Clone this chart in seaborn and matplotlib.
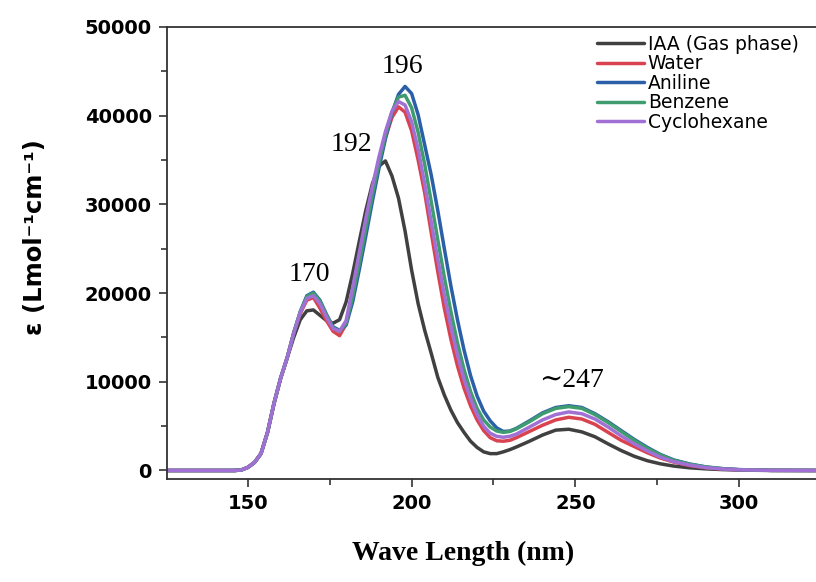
import pandas as pd
import matplotlib
matplotlib.use("Agg")
import matplotlib.pyplot as plt
from matplotlib.ticker import MultipleLocator
import seaborn as sns

# wavelength grid (nm)
wavelength = [125, 146, 148, 150, 152, 154, 156, 158, 160, 162, 164, 166, 168, 170, 172, 174, 176, 178,
              180, 182, 184, 186, 188, 190, 192, 194, 196, 198, 200, 202, 204, 206, 208, 210, 212, 214,
              216, 218, 220, 222, 224, 226, 228, 230, 232, 236, 240, 244, 248, 252, 256, 260, 264, 268,
              272, 276, 280, 285, 290, 295, 300, 310, 325]

# shared onset of all curves (125 .. 162 nm)
onset = [0, 0, 60, 350, 900, 1900, 4300, 7600, 10400, 12700]

gas = onset + [15000, 17000, 18000, 18100, 17500, 16900, 16600, 17000,
               19000, 22200, 25800, 29300, 32300, 34300, 34900, 33200, 30700, 27000, 22600, 18800,
               15800, 13200, 10500, 8500, 6800, 5400, 4300, 3300, 2600, 2100, 1900, 1900, 2100, 2350,
               2650, 3300, 4000, 4550, 4650, 4350, 3800, 3000, 2250, 1600, 1100, 750, 500,
               300, 180, 100, 50, 0, 0]
water = onset + [15500, 17700, 19200, 19500, 18300, 16900, 15700, 15200,
                 16500, 19800, 23600, 27500, 31300, 34600, 37500, 39800, 41000, 40400, 38300, 35000,
                 31300, 26800, 22400, 18300, 14800, 11800, 9300, 7300, 5700, 4500, 3700, 3350, 3300, 3400,
                 3700, 4400, 5100, 5700, 6000, 5800, 5200, 4300, 3400, 2700, 2000, 1400, 950,
                 550, 300, 160, 80, 15, 0]
aniline = onset + [15500, 17900, 19700, 20100, 19200, 17600, 16200, 15800,
                   16400, 19000, 22600, 26400, 30300, 34000, 37400, 40300, 42400, 43300, 42500, 40100,
                   36700, 33300, 29300, 25000, 20800, 17000, 13600, 10700, 8400, 6700, 5600, 4800, 4400, 4450,
                   4750, 5600, 6500, 7100, 7300, 7100, 6400, 5500, 4500, 3500, 2600, 1800, 1200,
                   720, 400, 210, 100, 15, 0]
benzene = onset + [15500, 17900, 19600, 20000, 19100, 17500, 16100, 15700,
                   16600, 19600, 23300, 27200, 31000, 34600, 37800, 40400, 42100, 42300, 40900, 38100,
                   34500, 30300, 26000, 21800, 17900, 14400, 11400, 8900, 7000, 5700, 4900, 4450, 4300, 4400,
                   4700, 5500, 6400, 7000, 7200, 7000, 6300, 5400, 4400, 3400, 2500, 1750, 1150,
                   700, 380, 200, 90, 15, 0]
cyclohexane = onset + [15500, 17800, 19400, 19700, 18800, 17300, 16000, 15700,
                       16900, 20600, 24500, 28400, 32000, 35300, 38200, 40500, 41600, 41200, 39300, 36200,
                       32300, 28000, 23800, 19800, 16200, 13000, 10300, 8100, 6300, 5000, 4200, 3850, 3750, 3850,
                       4100, 4900, 5700, 6300, 6600, 6400, 5800, 4900, 3900, 3000, 2200, 1500, 1000,
                       600, 320, 170, 80, 15, 0]

labels = ["IAA (Gas phase)", "Water", "Aniline", "Benzene", "Cyclohexane"]
colors = ["#404040", "#d9434f", "#2b5fa8", "#3f9c6f", "#a070d4"]
series = [gas, water, aniline, benzene, cyclohexane]

frames = []
for name, vals in zip(labels, series):
    frames.append(pd.DataFrame({"Wavelength": wavelength, "Epsilon": vals, "Solvent": name}))
df = pd.concat(frames, ignore_index=True)

sns.set_style("ticks")
plt.rcParams['font.family'] = ['DejaVu Sans']
plt.rcParams['text.color'] = 'black'
plt.rcParams['xtick.labelcolor'] = 'black'
plt.rcParams['ytick.labelcolor'] = 'black'

fig = plt.figure(figsize=(8.16, 5.82), dpi=100)
ax = fig.add_axes([167 / 816, 103 / 582, 1 - 167 / 816, 452 / 582])

sns.lineplot(data=df, x="Wavelength", y="Epsilon", hue="Solvent", hue_order=labels,
             palette=colors, linewidth=2.5, ax=ax, sort=False)

ax.set_xlim(125.3, 323.5)
ax.set_ylim(-960, 50000)
ax.xaxis.set_major_locator(MultipleLocator(50))
ax.xaxis.set_minor_locator(MultipleLocator(25))
ax.yaxis.set_major_locator(MultipleLocator(10000))
ax.yaxis.set_minor_locator(MultipleLocator(5000))
ax.tick_params(which="major", direction="out", length=6, width=1.2, color="#333333",
               labelsize=14, pad=5, labelcolor="black")
ax.tick_params(which="minor", direction="out", length=4, width=1.2, color="#333333")
for lab in ax.get_xticklabels() + ax.get_yticklabels():
    lab.set_fontweight("bold")
for side in ["left", "bottom", "top"]:
    ax.spines[side].set_color("#333333")
    ax.spines[side].set_linewidth(1.3)
ax.spines["right"].set_visible(False)
ax.set_xlabel("")
ax.set_ylabel("")

# legend
handles, _ = ax.get_legend_handles_labels()
leg = ax.legend(handles, labels, loc="upper left", bbox_to_anchor=(597 / 816, 1 - 35 / 582),
                bbox_transform=fig.transFigure, frameon=False, fontsize=13.5, handlelength=2.5,
                handletextpad=0.2, labelspacing=0.02, borderpad=0, borderaxespad=0)
for t in leg.get_texts():
    t.set_color("black")

# peak labels
serif = ["Liberation Serif", "DejaVu Serif"]
ax.text(168.9, 22150, "170", ha="center", va="center", fontsize=20, family=serif, color="black")
ax.text(181.5, 36700, "192", ha="center", va="center", fontsize=20, family=serif, color="black")
ax.text(197.3, 45500, "196", ha="center", va="center", fontsize=20, family=serif, color="black")
ax.text(248.9, 10200, "\u223c247", ha="center", va="center", fontsize=20, family=serif, color="black")

fig.text(35 / 816, 1 - 237 / 582, "\u03b5 (Lmol\u207b\u00b9cm\u207b\u00b9)", rotation=90,
         ha="center", va="center", fontsize=17.5, fontweight="bold", color="black")
fig.text(463 / 816, 1 - 553 / 582, "Wave Length (nm)", ha="center", va="center",
         fontsize=20, fontweight="bold", family=serif, color="black")

fig.savefig("out.png", dpi=100)
